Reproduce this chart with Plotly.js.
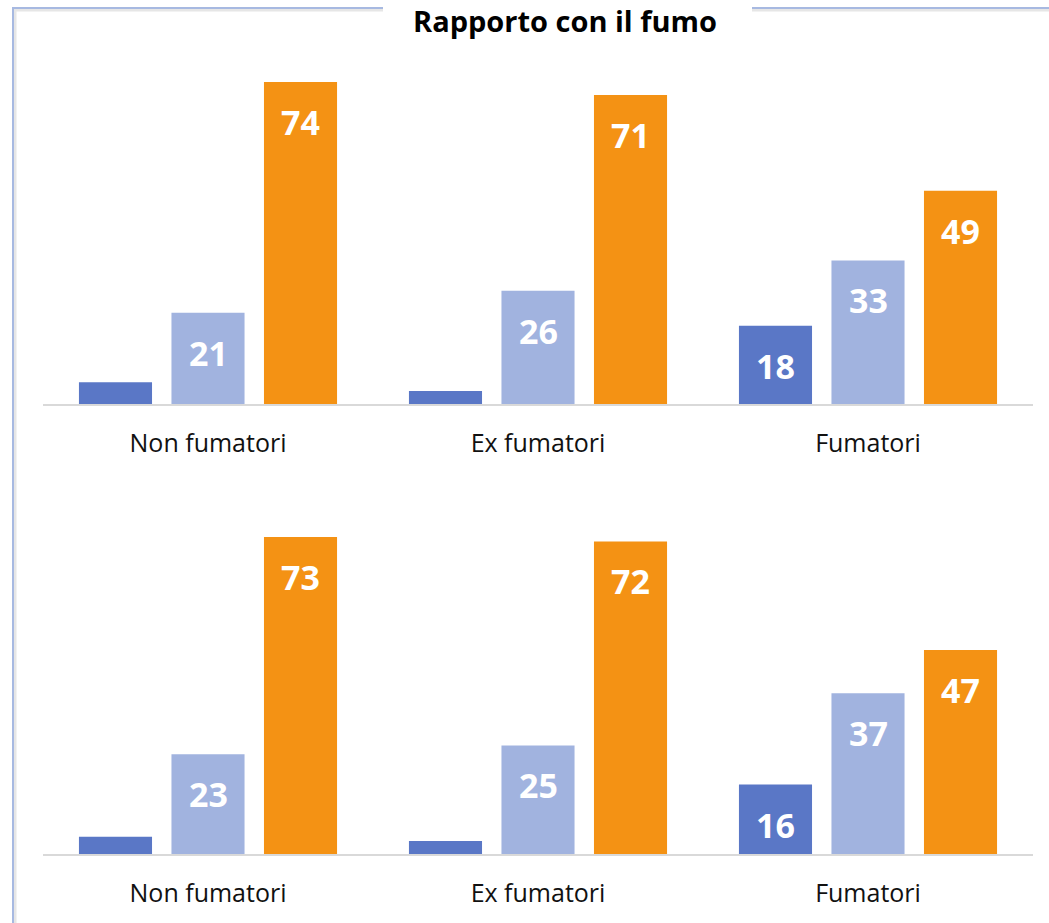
<!DOCTYPE html>
<html>
<head>
<meta charset="utf-8">
<script src="https://cdn.plot.ly/plotly-3.0.1.min.js"></script>
<style>
  html, body { margin: 0; padding: 0; background: #ffffff; }
  #chart { width: 1049px; height: 923px; }
</style>
</head>
<body>
<div id="chart"></div>
<script>
// ---- data ----
const categories = ['Non fumatori', 'Ex fumatori', 'Fumatori'];
const seriesNames = ['Serie 1', 'Serie 2', 'Serie 3'];
const topSeries1 = [5, 3, 18];
const topSeries2 = [21, 26, 33];
const topSeries3 = [74, 71, 49];
const bottomSeries1 = [4, 3, 16];
const bottomSeries2 = [23, 25, 37];
const bottomSeries3 = [73, 72, 47];
const chartTitle = 'Rapporto con il fumo';

// ---- style ----
const colors = ['#5a77c6', '#a1b3df', '#f49214'];
const W = 1049, H = 923;
const margin = {l: 43, r: 16, t: 0, b: 0};
const plotW = W - margin.l - margin.r;
const bargap = 0.159, bargroupgap = 0.21;
const labelMin = 10;

const topData = [topSeries1, topSeries2, topSeries3];
const bottomData = [bottomSeries1, bottomSeries2, bottomSeries3];

const traces = [];
const annotations = [];
const slotPx = (plotW / categories.length) * (1 - bargap) / 3;

function addPanel(data, xa, ya) {
  data.forEach((vals, s) => {
    traces.push({
      type: 'bar',
      name: seriesNames[s],
      x: categories,
      y: vals,
      xaxis: xa, yaxis: ya,
      marker: {color: colors[s], line: {width: 0}},
      hoverinfo: 'x+y',
      showlegend: false
    });
    vals.forEach((v, i) => {
      if (v >= labelMin) {
        annotations.push({
          x: categories[i], y: v,
          xref: xa, yref: ya,
          xshift: (s - 1) * slotPx,
          yshift: -40,
          yanchor: 'middle', xanchor: 'center',
          text: String(v),
          showarrow: false,
          font: {family: 'Open Sans, sans-serif', size: 34, color: '#ffffff', weight: 'bold'}
        });
      }
    });
  });
}
addPanel(topData, 'x', 'y');
addPanel(bottomData, 'x2', 'y2');

function px2paperX(px) { return (px - margin.l) / plotW; }
function px2paperY(py) { return 1 - py / H; }

const frameColor = '#a7b9e1';
const shadowColor = '#e6e6e6';
const shapes = [
  {type: 'line', xref: 'paper', yref: 'paper', x0: px2paperX(14), x1: px2paperX(383), y0: px2paperY(10), y1: px2paperY(10), line: {color: shadowColor, width: 3}, layer: 'below'},
  {type: 'line', xref: 'paper', yref: 'paper', x0: px2paperX(752), x1: px2paperX(1049), y0: px2paperY(10), y1: px2paperY(10), line: {color: shadowColor, width: 3}, layer: 'below'},
  {type: 'line', xref: 'paper', yref: 'paper', x0: px2paperX(15), x1: px2paperX(15), y0: px2paperY(9), y1: px2paperY(923), line: {color: shadowColor, width: 3}, layer: 'below'},
  {type: 'line', xref: 'paper', yref: 'paper', x0: px2paperX(12.5), x1: px2paperX(383), y0: px2paperY(8), y1: px2paperY(8), line: {color: frameColor, width: 2}, layer: 'below'},
  {type: 'line', xref: 'paper', yref: 'paper', x0: px2paperX(752), x1: px2paperX(1049), y0: px2paperY(8), y1: px2paperY(8), line: {color: frameColor, width: 2}, layer: 'below'},
  {type: 'line', xref: 'paper', yref: 'paper', x0: px2paperX(13), x1: px2paperX(13), y0: px2paperY(7), y1: px2paperY(923), line: {color: frameColor, width: 2}, layer: 'below'}
];

const xCommon = {
  type: 'category',
  showline: true, linecolor: '#d9d9d9', linewidth: 2,
  showgrid: false, zeroline: false,
  ticks: '', ticklabelstandoff: 16,
  tickfont: {family: 'Open Sans, sans-serif', size: 25, color: '#111111'},
  fixedrange: true
};
const yCommon = {
  showgrid: false, zeroline: false, showticklabels: false, showline: false, ticks: '',
  fixedrange: true
};

const layout = {
  width: W, height: H,
  margin: margin,
  paper_bgcolor: '#ffffff', plot_bgcolor: 'rgba(0,0,0,0)',
  barmode: 'group', bargap: bargap, bargroupgap: bargroupgap,
  showlegend: false,
  title: {
    text: chartTitle,
    xref: 'container', yref: 'container',
    x: 565 / W, xanchor: 'center',
    y: 1 - 22 / H, yanchor: 'middle',
    font: {family: 'Open Sans, sans-serif', size: 29, color: '#000000', weight: 'bold'}
  },
  xaxis: Object.assign({}, xCommon, {anchor: 'y', domain: [0, 1]}),
  yaxis: Object.assign({}, yCommon, {anchor: 'x', domain: [px2paperY(404), px2paperY(60)], range: [0, 344 / 4.351]}),
  xaxis2: Object.assign({}, xCommon, {anchor: 'y2', domain: [0, 1]}),
  yaxis2: Object.assign({}, yCommon, {anchor: 'x2', domain: [px2paperY(854), px2paperY(510)], range: [0, 344 / 4.342]}),
  annotations: annotations,
  shapes: shapes
};

Plotly.newPlot('chart', traces, layout, {displayModeBar: false, staticPlot: false});
</script>
</body>
</html>
